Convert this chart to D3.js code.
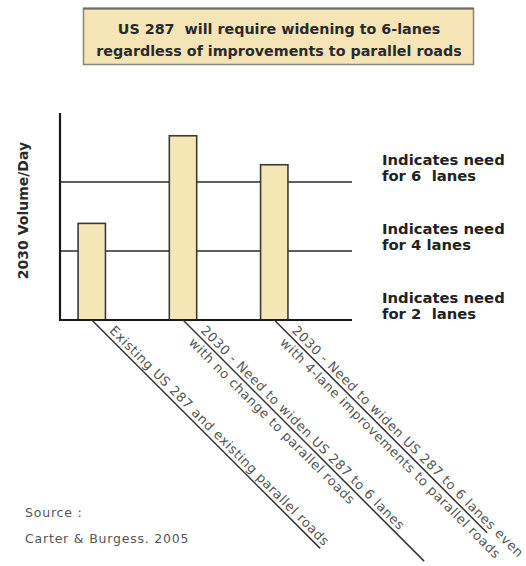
<!DOCTYPE html>
<html>
<head>
<meta charset="utf-8">
<script src="https://cdn.jsdelivr.net/npm/d3@7"></script>
<style>
  body { margin: 0; background: #fff; }
  svg { display: block; font-family: "Century Gothic", "DejaVu Sans", sans-serif; }
  text { white-space: pre; }
  .title { font-weight: bold; font-size: 14.3px; fill: #2a2a2a; }
  .lane-label { font-weight: bold; font-size: 14.8px; fill: #222; }
  .y-label { font-weight: bold; font-size: 14px; fill: #2a2a2a; }
  .cat-label { font-size: 13px; letter-spacing: 0.6px; fill: #555; }
  .source { font-size: 12.5px; letter-spacing: 0.8px; fill: #555; }
</style>
</head>
<body>
<div class="chart"></div>
<script>
// bar categories, each label split over its lines
const categories = [
    ["Existing US 287 and existing parallel roads"],
    ["2030 - Need to widen US 287 to 6 lanes", "with no change to parallel roads"],
    ["2030 - Need to widen US 287 to 6 lanes even", "with 4-lane improvements to parallel roads"]
]
// 2030 volume/day, in units of the lane thresholds
const volumes = [1.4, 2.67, 2.25]
// volume thresholds and the lanes they call for
const laneThresholds = [0, 1, 2]
const laneCounts = ["2  lanes", "4 lanes", "6  lanes"]
const yMax = 3

const titleLines = ["US 287  will require widening to 6-lanes", "regardless of improvements to parallel roads"]
const yTitle = "2030 Volume/Day"
const sourceLines = ["Source :", "Carter & Burgess. 2005"]

const width = 526
const height = 566

const svg = d3.select(".chart").append("svg")
    .attr("width", width)
    .attr("height", height)

// title box
svg.append("rect")
    .attr("x", 83.5)
    .attr("y", 8.5)
    .attr("width", 390)
    .attr("height", 56)
    .attr("fill", "#f5e5b6")
    .attr("stroke", "#8c8578")
    .attr("stroke-width", 1.5)

svg.append("line")
    .attr("x1", 83.5).attr("x2", 473.5)
    .attr("y1", 8.5).attr("y2", 8.5)
    .attr("stroke", "#6e6a62")
    .attr("stroke-width", 2)

svg.selectAll("text.title")
    .data(titleLines)
    .enter()
    .append("text")
    .attr("class", "title")
    .attr("x", 279)
    .attr("y", (d, i) => 34 + i * 22)
    .attr("text-anchor", "middle")
    .text(d => d)

const x = d3.scaleBand()
    .domain(d3.range(categories.length))
    .range([60, 352])
    .paddingInner(0.7)
    .paddingOuter(0.45)
    .align(0.22)

const y = d3.scaleLinear()
    .domain([0, yMax])
    .range([320, 113])

// lane threshold lines (behind bars)
svg.selectAll("line.threshold")
    .data(laneThresholds.filter(d => d > 0))
    .enter()
    .append("line")
    .attr("class", "threshold")
    .attr("x1", x.range()[0])
    .attr("x2", x.range()[1])
    .attr("y1", d => y(d))
    .attr("y2", d => y(d))
    .attr("stroke", "#2a2a2a")
    .attr("stroke-width", 1.6)

// bars
svg.selectAll("rect.bar")
    .data(volumes)
    .enter()
    .append("rect")
    .attr("class", "bar")
    .attr("x", (d, i) => x(i))
    .attr("y", d => y(d))
    .attr("width", x.bandwidth())
    .attr("height", d => y(0) - y(d))
    .attr("fill", "#f5e6b6")
    .attr("stroke", "#3a3a3a")
    .attr("stroke-width", 1.6)

// axes
svg.append("line")
    .attr("x1", x.range()[0]).attr("x2", x.range()[0])
    .attr("y1", y(yMax)).attr("y2", y(0) + 1)
    .attr("stroke", "#1a1a1a")
    .attr("stroke-width", 2.2)

svg.append("line")
    .attr("x1", x.range()[0] - 1).attr("x2", x.range()[1])
    .attr("y1", y(0)).attr("y2", y(0))
    .attr("stroke", "#1a1a1a")
    .attr("stroke-width", 2.2)

svg.append("text")
    .attr("class", "y-label")
    .attr("transform", "translate(28," + (y(yMax / 2) - 6) + ") rotate(-90)")
    .attr("text-anchor", "middle")
    .text(yTitle)

// lane labels on the right
laneThresholds.forEach(function(t, i){
    let g = svg.append("g")
        .attr("transform", "translate(382," + (y(t) - 1) + ")")
    g.append("text")
        .attr("class", "lane-label")
        .attr("y", -16.5)
        .text("Indicates need")
    g.append("text")
        .attr("class", "lane-label")
        .attr("y", 0)
        .text("for " + laneCounts[i])
})

// diagonal leader lines with labels
const leaderLength = [323, 341, 301]
categories.forEach(function(lines, i){
    let g = svg.append("g")
        .attr("transform", "translate(" + (x(i) + x.bandwidth() / 2) + "," + y(0) + ") rotate(45)")
    g.append("line")
        .attr("x1", 0).attr("x2", leaderLength[i])
        .attr("y1", 0).attr("y2", 0)
        .attr("stroke", "#333")
        .attr("stroke-width", 1.5)
    g.selectAll("text")
        .data(lines)
        .enter()
        .append("text")
        .attr("class", "cat-label")
        .attr("x", 20)
        .attr("y", (d, j) => j == 0 ? -4 : 13)
        .text(d => d)
})

// source
svg.selectAll("text.source")
    .data(sourceLines)
    .enter()
    .append("text")
    .attr("class", "source")
    .attr("x", 25)
    .attr("y", (d, i) => 517 + i * 26)
    .text(d => d)
</script>
</body>
</html>
